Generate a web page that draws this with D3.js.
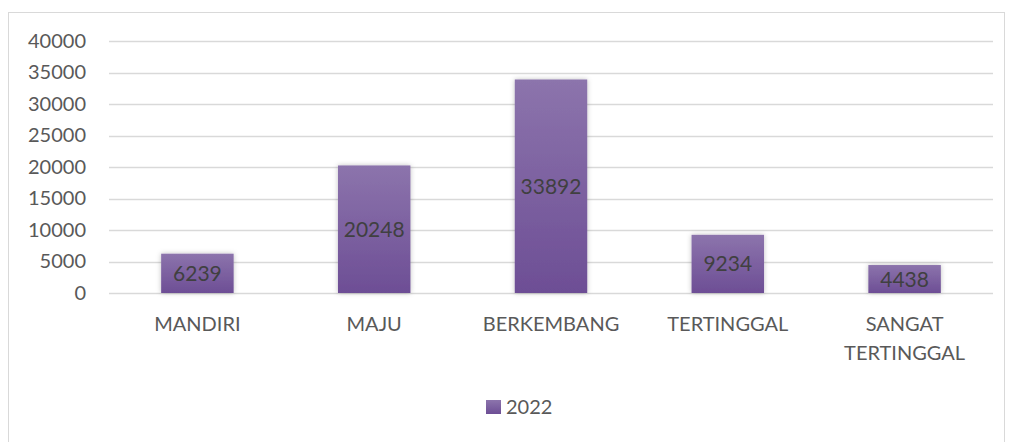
<!DOCTYPE html>
<html>
<head>
<meta charset="utf-8">
<script src="https://cdn.jsdelivr.net/npm/d3@7"></script>
<style>
  body { margin: 0; background: #fff; }
  svg { display: block; font-family: Lato, "Open Sans", sans-serif; }
</style>
</head>
<body>
<div id="chart"></div>
<script>
const categories = ["MANDIRI", "MAJU", "BERKEMBANG", "TERTINGGAL", "SANGAT TERTINGGAL"];
const values2022 = [6239, 20248, 33892, 9234, 4438];
const yTicks = [0, 5000, 10000, 15000, 20000, 25000, 30000, 35000, 40000];
const seriesName = "2022";

const width = 1009;
const height = 442;
const margin = { left: 109, right: 16, top: 41, bottom: 149 };
const plotW = width - margin.left - margin.right;
const plotH = height - margin.top - margin.bottom;

const svg = d3
  .select("#chart")
  .append("svg")
  .attr("width", width)
  .attr("height", height);

// outer chart border
svg
  .append("rect")
  .attr("x", 8.5)
  .attr("y", 12.5)
  .attr("width", 996)
  .attr("height", 440)
  .attr("fill", "none")
  .attr("stroke", "#d9d9d9");

const defs = svg.append("defs");
const grad = defs
  .append("linearGradient")
  .attr("id", "barGrad")
  .attr("x1", 0)
  .attr("y1", 0)
  .attr("x2", 0)
  .attr("y2", 1);
grad.append("stop").attr("offset", "0%").attr("stop-color", "#8c74ac");
grad.append("stop").attr("offset", "100%").attr("stop-color", "#6d4e95");

const shadow = defs.append("filter").attr("id", "shadow").attr("x", "-20%").attr("y", "-20%").attr("width", "140%").attr("height", "140%");
shadow
  .append("feDropShadow")
  .attr("dx", 0)
  .attr("dy", 0)
  .attr("stdDeviation", 2.5)
  .attr("flood-color", "#000")
  .attr("flood-opacity", 0.25);

const g = svg.append("g").attr("transform", `translate(${margin.left}, ${margin.top})`);

let x = d3.scaleBand().domain(categories).range([0, plotW]).paddingInner(0.59).paddingOuter(0.295);
let y = d3.scaleLinear().domain([0, 40000]).range([plotH, 0]);

// gridlines
g.selectAll(".grid")
  .data(yTicks)
  .enter()
  .append("line")
  .attr("x1", 0)
  .attr("x2", plotW)
  .attr("y1", (d) => Math.round(y(d)) + 0.5)
  .attr("y2", (d) => Math.round(y(d)) + 0.5)
  .attr("stroke", "#d9d9d9")
  .attr("stroke-width", 1.3);

// y axis labels
const yAxis = g.append("g").call(d3.axisLeft(y).tickValues(yTicks).tickSize(0).tickPadding(23).tickFormat(d3.format("d")));
yAxis.select(".domain").remove();
yAxis.selectAll("text").style("fill", "#595959").style("font-size", "20px").style("font-family", "Lato, sans-serif");

// bars
g.selectAll(".bar")
  .data(values2022)
  .enter()
  .append("rect")
  .attr("x", (d, i) => x(categories[i]))
  .attr("y", (d) => y(d))
  .attr("width", x.bandwidth())
  .attr("height", (d) => plotH - y(d))
  .attr("fill", "url(#barGrad)")
  .attr("filter", "url(#shadow)");

// value labels
g.selectAll(".lbl")
  .data(values2022)
  .enter()
  .append("text")
  .text((d) => d)
  .attr("x", (d, i) => x(categories[i]) + x.bandwidth() / 2)
  .attr("y", (d) => (y(d) + plotH) / 2)
  .attr("dy", "0.36em")
  .style("text-anchor", "middle")
  .style("fill", "#404040")
  .style("font-size", "21px");

// category labels
const catLabels = g
  .selectAll(".cat")
  .data(categories)
  .enter()
  .append("text")
  .attr("x", (d) => x(d) + x.bandwidth() / 2)
  .attr("y", plotH + 38)
  .style("text-anchor", "middle")
  .style("fill", "#595959")
  .style("font-size", "20px");

catLabels.each(function (d) {
  const words = d === "SANGAT TERTINGGAL" ? ["SANGAT", "TERTINGGAL"] : [d];
  const t = d3.select(this);
  words.forEach((w, i) => {
    t.append("tspan")
      .attr("x", t.attr("x"))
      .attr("dy", i === 0 ? 0 : 29)
      .text(w);
  });
});

// legend
const legend = svg.append("g").attr("transform", "translate(486, 400)");
legend.append("rect").attr("width", 15).attr("height", 14).attr("fill", "url(#barGrad)");
legend
  .append("text")
  .attr("x", 20)
  .attr("y", 13.5)
  .text(seriesName)
  .style("fill", "#595959")
  .style("font-size", "20px");
</script>
</body>
</html>
